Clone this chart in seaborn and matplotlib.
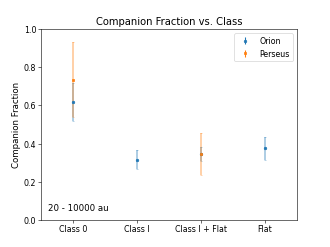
import matplotlib
matplotlib.use("Agg")
import matplotlib.pyplot as plt
import seaborn as sns
import numpy as np

classes = ["Class 0", "Class I", "Class I + Flat", "Flat"]
orion_frac = [0.617, 0.316, 0.345, 0.374]
orion_err = [0.100, 0.052, 0.036, 0.059]
perseus_classes = ["Class 0", "Class I + Flat"]
perseus_frac = [0.736, 0.346]
perseus_err = [0.195, 0.111]

sns.reset_orig()
plt.rcParams["font.family"] = ["DejaVu Sans"]
pal = sns.color_palette("tab10")

fig, ax = plt.subplots(figsize=(6.4, 4.8), dpi=330 / 6.4)
xo = [classes.index(c) for c in classes]
xp = [classes.index(c) for c in perseus_classes]
ax.errorbar(xo, orion_frac, yerr=orion_err, fmt="none", ecolor=pal[0],
            capsize=2, elinewidth=2.2, alpha=0.45)
ax.errorbar(xp, perseus_frac, yerr=perseus_err, fmt="none", ecolor=pal[1],
            capsize=2, elinewidth=2.2, alpha=0.45)
ax.plot(xo, orion_frac, "o", color=pal[0], ms=3.5)
ax.plot(xp, perseus_frac, "s", color=pal[1], ms=3.5)
h1 = ax.errorbar([], [], yerr=[], fmt="o", color=pal[0], ms=3.5, label="Orion")
h2 = ax.errorbar([], [], yerr=[], fmt="s", color=pal[1], ms=3.5, label="Perseus")
ax.legend(handles=[h1, h2], loc="upper right", fontsize=11)
ax.set_xticks(range(len(classes)))
ax.set_xticklabels(classes, fontsize=11)
ax.tick_params(axis="y", labelsize=11)
ax.set_xlim(-0.5, 3.5)
ax.set_ylim(0, 1)
ax.set_ylabel("Companion Fraction", fontsize=12)
ax.set_title("Companion Fraction vs. Class", fontsize=14)
ax.text(0.026, 0.06, "20 - 10000 au", transform=ax.transAxes, fontsize=12, va="center")
fig.savefig("out.png")
